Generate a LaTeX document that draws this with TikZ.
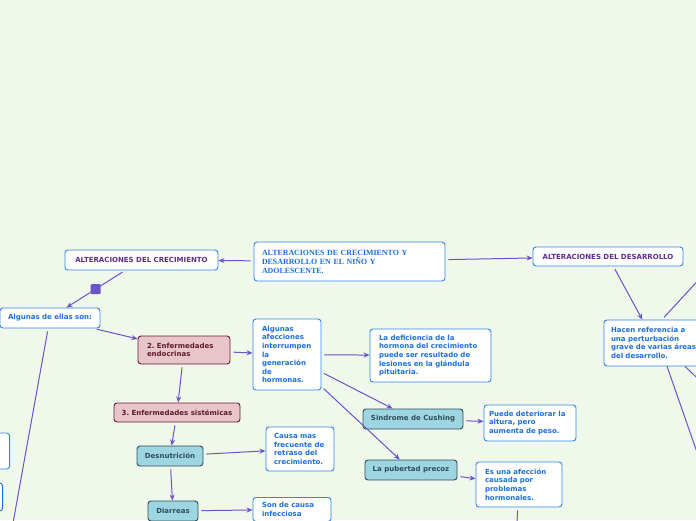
\documentclass[tikz,border=0pt]{standalone}
\usepackage{fontspec}
\setmainfont{Liberation Serif}
\setsansfont{DejaVu Sans}
\usetikzlibrary{arrows.meta}
\definecolor{bgmint}{HTML}{F0F7EB}
\definecolor{boxblue}{HTML}{2F86E8}
\definecolor{txtblue}{HTML}{1A6FDF}
\definecolor{txtpurple}{HTML}{5B2D8E}
\definecolor{linkpurple}{HTML}{6A55C9}
\definecolor{rosefill}{HTML}{E7C5CA}
\definecolor{maroon}{HTML}{6B1D2C}
\definecolor{cyanfill}{HTML}{9ED5E3}
\definecolor{slate}{HTML}{2E4E58}

\begin{document}
\begin{tikzpicture}[x=1pt,y=-1pt,
  every node/.style={font=\sffamily\bfseries\fontsize{7}{8.6}\selectfont},
  topic/.style={draw=boxblue,fill=white,rounded corners=3pt,line width=0.9pt,
    text=txtblue,align=left,inner xsep=9pt,inner ysep=3pt},
  head/.style={topic,text=txtpurple,align=center,inner xsep=2pt},
  endo/.style={topic,draw=maroon,fill=rosefill,text=maroon!90!black},
  sub/.style={topic,draw=slate,fill=cyanfill,text=slate,align=center,inner xsep=2pt},
  knot/.style={fill=linkpurple,minimum size=10pt,inner sep=0pt,rounded corners=1pt},
  link/.style={draw=linkpurple,line width=1pt,shorten <=3pt,-{Stealth[length=6pt,width=5pt]}},
  tail/.style={draw=linkpurple,line width=1pt,shorten <=3pt}]
  \useasboundingbox (0,0) rectangle (696,520);
  \fill[bgmint] (0,0) rectangle (696,520);
  \clip (0,0) rectangle (696,520);

  % centre and the two branches
  \node[topic,font=\rmfamily\bfseries\fontsize{7.9}{9}\selectfont,text width=175pt,
    inner xsep=8pt,minimum height=39pt] (hub) at (349.5,261.5)
    {ALTERACIONES DE CRECIMIENTO Y\\DESARROLLO EN EL NIÑO Y\\ADOLESCENTE.};
  \node[head,minimum width=153pt,minimum height=20pt] (crec) at (141.5,260) {ALTERACIONES DEL CRECIMIENTO};
  \node[head,minimum width=150pt,minimum height=19pt] (desa) at (608,256.5) {ALTERACIONES DEL DESARROLLO};

  % growth side
  \node[topic,align=center,inner xsep=2pt,minimum width=100pt,minimum height=20pt] (algunas) at (50,318) {Algunas de ellas son:};
  \node[endo,text width=74pt,minimum height=28pt] (endo) at (184,350) {2.\ Enfermedades\\endocrinas};
  \node[endo,align=center,inner xsep=2pt,minimum width=126pt,minimum height=19pt] (sist) at (177,412.5) {3.\ Enfermedades sistémicas};
  \node[sub,minimum width=66pt,minimum height=20pt] (desn) at (170,456) {Desnutrición};
  \node[sub,minimum width=50pt,minimum height=20pt] (diar) at (173,511) {Diarreas};
  \node[topic,text width=50pt,minimum height=71pt] (afec) at (287,354.5)
    {Algunas\\afecciones\\interrumpen\\la\\generación\\de\\hormonas.};
  \node[topic,text width=103pt,minimum height=53pt] (defi) at (430.5,355.5)
    {La deficiencia de la\\hormona del crecimiento\\puede ser resultado de\\lesiones en la glándula\\pituitaria.};
  \node[sub,minimum width=100pt,minimum height=20pt] (cush) at (413,419) {Sindrome de Cushing};
  \node[topic,text width=82pt,inner xsep=5pt,minimum height=36pt] (puede) at (530,423)
    {Puede deteriorar la\\altura, pero\\aumenta de peso.};
  \node[sub,minimum width=92pt,minimum height=20pt] (pube) at (411,470) {La pubertad precoz};
  \node[topic,text width=68pt,minimum height=45pt] (esuna) at (519,484.5)
    {Es una afección\\causada por\\problemas\\hormonales.};
  \node[topic,text width=52pt,inner xsep=8pt,minimum height=44pt] (causa) at (300,449)
    {Causa mas\\frecuente de\\retraso del\\crecimiento.};
  \node[topic,text width=60pt,inner ysep=5pt,anchor=north] (son) at (292,497)
    {Son de causa\\infecciosa};
  \node[topic,minimum width=80pt,minimum height=36pt,anchor=east] (lefta) at (10,451) {};
  \node[topic,draw=txtblue,minimum width=80pt,minimum height=28pt,anchor=east] (leftb) at (3,497) {};

  % development side
  \node[topic,text width=88pt,inner xsep=7pt,minimum height=46pt] (hacen) at (655,343)
    {Hacen referencia a\\una perturbación\\grave de varias áreas\\del desarrollo.};

  % ends that leave the picture
  \coordinate (offsw) at (6,562);
  \coordinate (offs) at (515,560);
  \coordinate (offne) at (740,235);
  \coordinate (offse) at (728,541);
  \coordinate (offe) at (742,421);

  % connectors
  \draw[link] (hub) -- (crec);
  \draw[link] (hub) -- (desa);
  \draw[link] (crec) -- node[knot] (sq) {} (algunas);
  \draw[link] (algunas) -- (endo);
  \draw[tail] (algunas) -- (offsw);
  \draw[link] (endo) -- (sist);
  \draw[link] (endo) -- (afec);
  \draw[link] (afec) -- (defi);
  \draw[link] (afec) -- (cush);
  \draw[link] (afec) -- (pube);
  \draw[link] (cush) -- (puede);
  \draw[link] (pube) -- (esuna);
  \draw[tail] (esuna) -- (offs);
  \draw[link] (sist) -- (desn);
  \draw[link] (desn) -- (causa);
  \draw[link] (desn) -- (diar);
  \draw[link] (diar) -- (son);
  \draw[link] (desa) -- (hacen);
  \draw[tail] ([xshift=7pt]hacen.north) -- (offne);
  \draw[tail] ([xshift=11pt,yshift=3pt]hacen.south) -- (offse);
  \draw[tail] ([xshift=28pt,yshift=2pt]hacen.south) -- (offe);
\end{tikzpicture}
\end{document}
